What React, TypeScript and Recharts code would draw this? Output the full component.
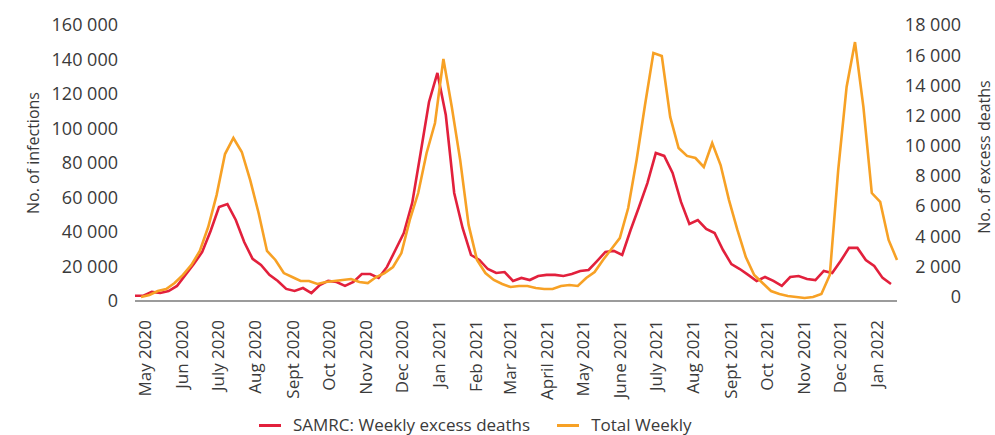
import { LineChart, Line, XAxis, YAxis, Legend } from 'recharts';

// x values are days counted from 1 May 2020
const ORIGIN = '2020-05-01';

const monthStarts = [
  '2020-05-01', '2020-06-01', '2020-07-01', '2020-08-01', '2020-09-01', '2020-10-01', '2020-11-01',
  '2020-12-01', '2021-01-01', '2021-02-01', '2021-03-01', '2021-04-01', '2021-05-01', '2021-06-01',
  '2021-07-01', '2021-08-01', '2021-09-01', '2021-10-01', '2021-11-01', '2021-12-01', '2022-01-01',
];
const monthLabels = [
  'May 2020', 'Jun 2020', 'July 2020', 'Aug 2020', 'Sept 2020', 'Oct 2020', 'Nov 2020',
  'Dec 2020', 'Jan 2021', 'Feb 2021', 'Mar 2021', 'April 2021', 'May 2021', 'June 2021',
  'July 2021', 'Aug 2021', 'Sept 2021', 'Oct 2021', 'Nov 2021', 'Dec 2021', 'Jan 2022',
];

// SAMRC weekly excess deaths (right axis), first week ending 21 Apr 2020
const excessDeathsStart = '2020-04-21';
const excessDeaths = [
  50, 50, 300, 230, 360, 700, 1430, 2150, 2950, 4340,
  5930, 6130, 5070, 3610, 2490, 2090, 1430, 1030, 500, 365,
  560, 230, 760, 1030, 960, 700, 960, 1490, 1490, 1230,
  1960, 3080, 4210, 6200, 9510, 12900, 14820, 12030, 6860, 4540,
  2750, 2420, 1820, 1560, 1620, 1030, 1230, 1090, 1360, 1430,
  1430, 1360, 1490, 1690, 1760, 2350, 2950, 3020, 2750, 4410,
  5930, 7520, 9510, 9320, 8190, 6270, 4810, 5070, 4480, 4210,
  3080, 2150, 1820, 1430, 1030, 1290, 1030, 700, 1290, 1360,
  1160, 1090, 1690, 1560, 2350, 3220, 3220, 2420, 2020, 1230,
  830,
];

// total weekly infections (left axis), first week ending 26 Apr 2020
const totalWeeklyStart = '2020-04-26';
const totalWeekly = [
  2320, 3480, 5800, 6960, 10400, 15100, 20900, 29000, 42900, 61400,
  85200, 94500, 86400, 70100, 51000, 29000, 23800, 16200, 13900, 11600,
  11600, 9860, 11000, 11600, 12200, 12750, 11000, 10400, 13900, 16200,
  19700, 27800, 47000, 62600, 85800, 103200, 140300, 112500, 81700, 44100,
  23800, 16200, 12200, 9860, 8120, 8700, 8700, 7540, 6960, 6960,
  8700, 9280, 8700, 13300, 16800, 23800, 30100, 36500, 53900, 81700,
  113600, 143800, 142000, 106700, 88700, 84100, 82900, 77700, 91600, 78800,
  58500, 41200, 25500, 15100, 10400, 5800, 4060, 2900, 2320, 1740,
  2320, 4060, 15100, 75900, 124100, 150100, 112500, 62600, 57400, 35400,
  23800,
];

const infectionTicks = [0, 20000, 40000, 60000, 80000, 100000, 120000, 140000, 160000];
const deathTicks = [0, 2000, 4000, 6000, 8000, 10000, 12000, 14000, 16000, 18000];

const RED = '#e2203c';
const ORANGE = '#f7a125';
const TEXT = '#3a3a3a';
const FONT = '"Open Sans", sans-serif';

const dayOf = (iso: string) => Math.round((Date.parse(iso) - Date.parse(ORIGIN)) / 86400000);

const deathRows = excessDeaths.map((v, i) => ({ day: dayOf(excessDeathsStart) + 7 * i, deaths: v }));
const infectionRows = totalWeekly.map((v, i) => ({ day: dayOf(totalWeeklyStart) + 7 * i, infections: v }));
const monthTicks = monthStarts.map(dayOf);

const fmt = (v: number) => v.toLocaleString('en-US').replace(/,/g, ' ');

function MonthTick({ x, y, payload }: any) {
  const idx = monthTicks.indexOf(payload.value);
  return (
    <text
      x={0}
      y={0}
      transform={`translate(${x - 2},${y + 13}) rotate(-90)`}
      textAnchor="end"
      dy="0.35em"
      fontSize={17}
      fill={TEXT}
      fontFamily={FONT}
    >
      {monthLabels[idx]}
    </text>
  );
}

function RightTick({ x, y, payload }: any) {
  return (
    <text x={x + 58} y={y} dy="0.355em" textAnchor="end" fontSize={18} fill={TEXT} fontFamily={FONT}>
      {fmt(payload.value)}
    </text>
  );
}

function axisTitle(text: string, dx: number, dy: number) {
  return (props: any) => {
    const vb = props.viewBox ?? { x: 0, y: 0, width: 0, height: 0 };
    const cx = vb.x + dx;
    const cy = vb.y + vb.height / 2 + dy;
    return (
      <text
        x={0}
        y={0}
        transform={`translate(${cx},${cy}) rotate(-90)`}
        textAnchor="middle"
        dominantBaseline="central"
        fontSize={16}
        fill={TEXT}
        fontFamily={FONT}
      >
        {text}
      </text>
    );
  };
}

function LegendContent({ payload }: any) {
  return (
    <div
      style={{
        height: 34,
        paddingTop: 14,
        boxSizing: 'border-box',
        display: 'flex',
        alignItems: 'center',
        paddingLeft: 259,
        fontFamily: FONT,
      }}
    >
      {(payload ?? []).map((p: any, i: number) => (
        <div key={i} style={{ display: 'flex', alignItems: 'center', marginRight: 27 }}>
          <span style={{ width: 22, height: 3, background: p.color, marginRight: 12 }} />
          <span style={{ fontSize: 17, color: TEXT, lineHeight: '20px' }}>{p.value}</span>
        </div>
      ))}
    </div>
  );
}

export default function App() {
  return (
    <div style={{ position: 'absolute', left: 0, top: 0, width: 995, height: 435, background: '#fff', fontFamily: FONT }}>
      <LineChart width={995} height={435} margin={{ top: 25, right: 0, bottom: 0, left: 0 }}>
        <XAxis
          xAxisId={0}
          type="number"
          dataKey="day"
          domain={['dataMin', 'dataMax']}
          ticks={monthTicks}
          interval={0}
          axisLine={{ stroke: '#9b9b9b', strokeWidth: 2 }}
          tickLine={false}
          tickMargin={0}
          height={100}
          tick={<MonthTick />}
        />
        <YAxis
          yAxisId="left"
          orientation="left"
          width={135}
          domain={[0, 160000]}
          ticks={infectionTicks}
          axisLine={false}
          tickLine={false}
          tickMargin={11}
          tickFormatter={fmt}
          tick={{ fontSize: 18, fill: TEXT, fontFamily: FONT }}
          label={axisTitle('No. of infections', 33, -10)}
        />
        <YAxis
          yAxisId="right"
          orientation="right"
          width={98}
          domain={[-300, 18000]}
          ticks={deathTicks}
          axisLine={false}
          tickLine={false}
          tickMargin={0}
          tick={<RightTick />}
          label={axisTitle('No. of excess deaths', 87, -6)}
        />
        <Legend verticalAlign="bottom" content={<LegendContent />} wrapperStyle={{ left: 0, width: 995, bottom: 0 }} />
        <Line
          xAxisId={0}
          yAxisId="right"
          data={deathRows}
          dataKey="deaths"
          name="SAMRC: Weekly excess deaths"
          stroke={RED}
          strokeWidth={2.6}
          dot={false}
          activeDot={false}
          type="linear"
          isAnimationActive={false}
        />
        <Line
          xAxisId={0}
          yAxisId="left"
          data={infectionRows}
          dataKey="infections"
          name="Total Weekly"
          stroke={ORANGE}
          strokeWidth={2.6}
          dot={false}
          activeDot={false}
          type="linear"
          isAnimationActive={false}
        />
      </LineChart>
    </div>
  );
}
